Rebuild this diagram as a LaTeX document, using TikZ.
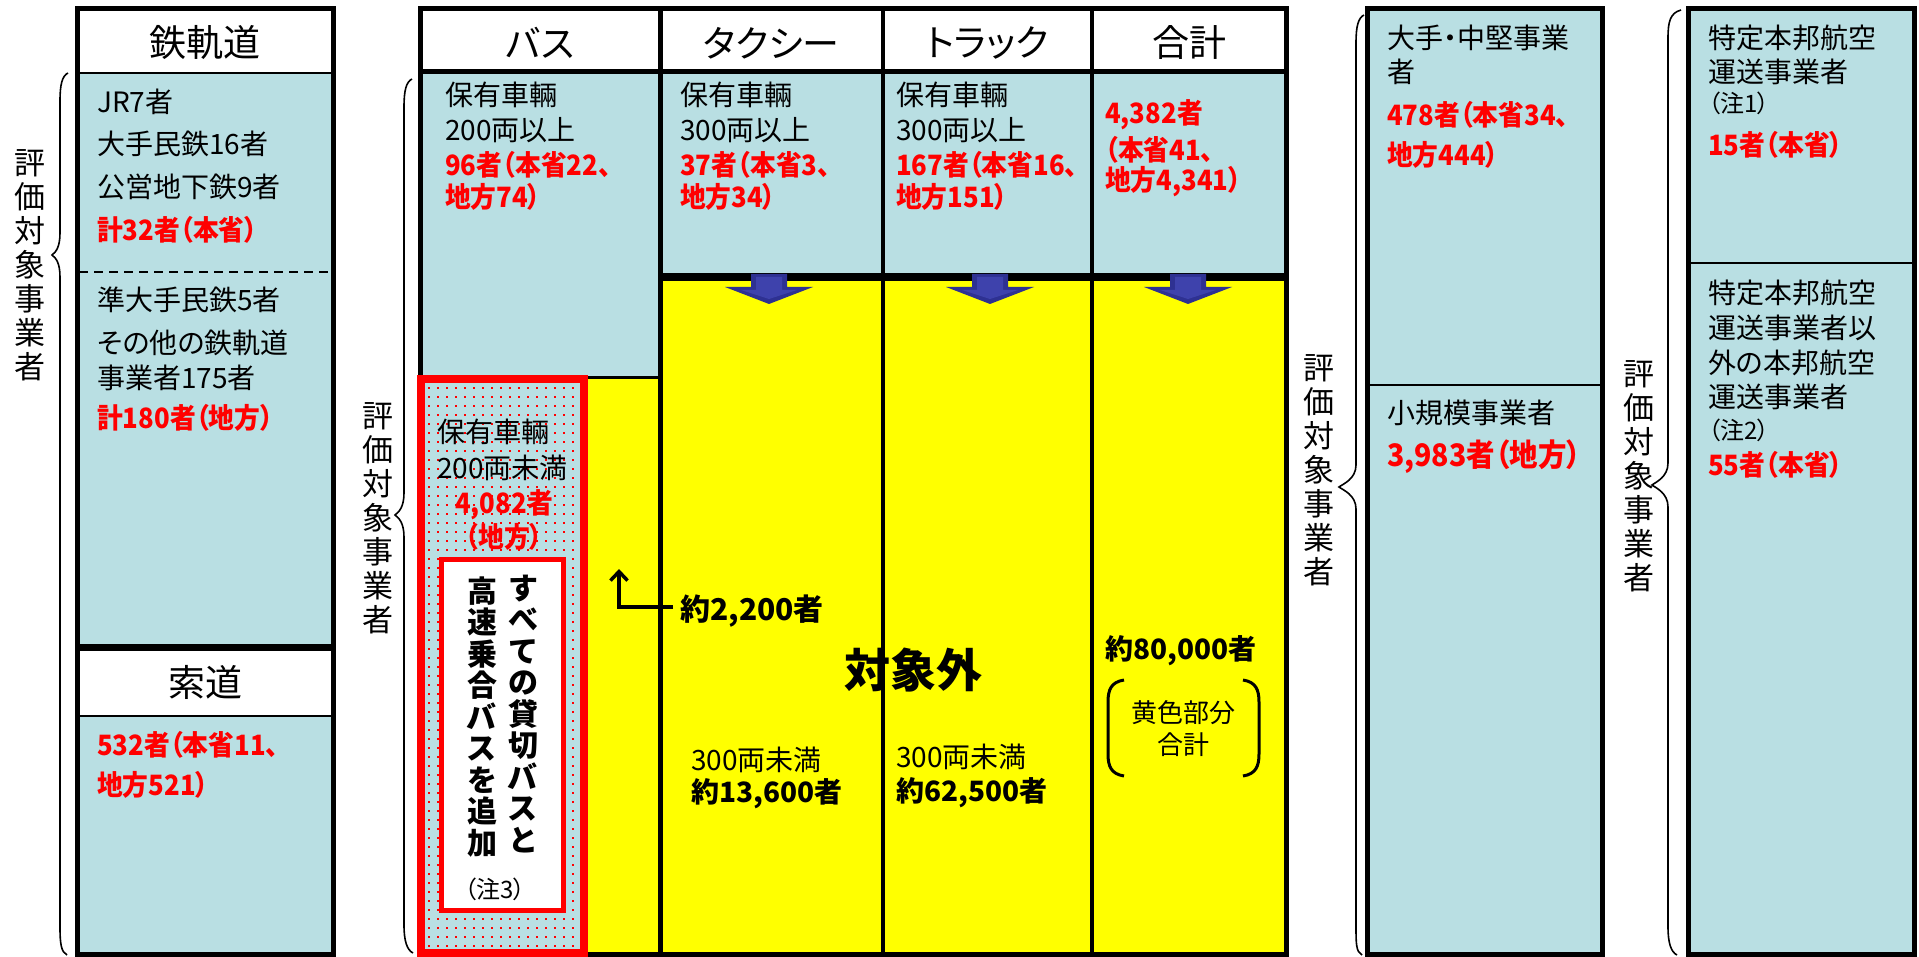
\documentclass[tikz,border=0pt]{standalone}
\usepackage{fontspec}
\setmainfont{Noto Sans CJK JP}[RawFeature=+palt]
\newfontfamily\rbf{Noto Sans CJK JP}[RawFeature=+palt,FakeStretch=0.92]
\usetikzlibrary{arrows.meta}
\definecolor{lblue}{RGB}{185,223,227}
\definecolor{ylw}{RGB}{255,255,0}
\definecolor{navy}{RGB}{46,49,146}
\definecolor{navyl}{RGB}{62,66,172}
\definecolor{rd}{RGB}{255,0,0}
\tikzset{
  tx/.style={anchor=west,inner sep=0pt,font=\fontsize{28}{30}\selectfont},
  rtx/.style={anchor=west,inner sep=0pt,text=rd,font=\fontsize{28}{30}\selectfont\rbf\bfseries},
  btx/.style={anchor=west,inner sep=0pt,font=\fontsize{28}{30}\selectfont\bfseries},
  ntx/.style={anchor=west,inner sep=0pt,font=\fontsize{24}{26}\selectfont},
  hd/.style={inner sep=0pt,font=\fontsize{37}{40}\selectfont},
  vlab/.style={inner sep=0pt,align=center,font=\fontsize{31}{34}\selectfont},
  vbold/.style={inner sep=0pt,align=center,font=\fontsize{30}{31.5}\selectfont\bfseries},
  frame/.style={line width=5pt},
  thinline/.style={line width=2.5pt},
  brc/.style={line width=1.6pt},
}
\newcommand{\mybrace}[7]{\draw[brc] (#2,#3) .. controls (#1+2,#3+3) and (#1,#3+12) .. (#1,#3+28) -- (#1,#5-22) .. controls (#1,#5-8) and (#4+4,#5-3) .. (#4,#5) .. controls (#4+4,#5+3) and (#1,#5+8) .. (#1,#5+22) -- (#1,#7-28) .. controls (#1,#7-12) and (#6-6,#7-3) .. (#6,#7);}
\newcommand{\blkarrow}[1]{\fill[navy] (#1-18,274) -- (#1+18,274) -- (#1+18,287) -- (#1+44,287) -- (#1,304) -- (#1-44,287) -- (#1-18,287) -- cycle;
\fill[navyl] (#1-13,277) -- (#1+13,277) -- (#1+13,290) -- (#1+28,290) -- (#1,299) -- (#1-28,290) -- (#1-13,290) -- cycle;}
\begin{document}
\begin{tikzpicture}[x=1pt,y=-1pt]
\useasboundingbox (0,0) rectangle (1919,957);
\fill[white] (0,0) rectangle (1919,957);
% ---------- fills ----------
\fill[white] (77,9) rectangle (333,73);
\fill[lblue] (77,73) rectangle (333,647);
\fill[white] (77,647) rectangle (333,716);
\fill[lblue] (77,716) rectangle (333,954);
\fill[white] (420,9) rectangle (1286,72);
\fill[lblue] (420,72) rectangle (660,378);
\fill[lblue] (660,72) rectangle (1286,277);
\fill[ylw] (660,277) rectangle (1286,954);
\fill[ylw] (584,378) rectangle (660,954);
\fill[lblue] (421,379) rectangle (584,953);
\foreach \i in {0,...,16}{\foreach \j in {0,...,62}{\fill[rd] (428+9*\i,387+9*\j) rectangle ++(2,2);}}
\fill[lblue] (1367,9) rectangle (1602,954);
\fill[lblue] (1688,9) rectangle (1914,954);
% ---------- lines ----------
\draw[frame] (77,9) rectangle (333,954);
\draw[thinline] (77,73) -- (333,73);
\draw[line width=1.5pt,dash pattern=on 9pt off 6pt] (79,272) -- (331,272);
\draw[line width=7pt] (77,647) -- (333,647);
\draw[thinline] (77,716) -- (333,716);
\draw[frame] (420,9) rectangle (1286,954);
\draw[frame] (420,72) -- (1286,72);
\draw[frame] (660,9) -- (660,954);
\draw[line width=4.5pt] (883,9) -- (883,954);
\draw[line width=4.5pt] (1092,9) -- (1092,954);
\draw[line width=8pt] (660,277) -- (1286,277);
\draw[line width=3pt] (420,378) -- (660,378);
\draw[rd,line width=8pt] (421,379) rectangle (584,953);
\filldraw[fill=white,draw=rd,line width=5pt] (441,559) rectangle (563,910);
\draw[frame] (1367,9) rectangle (1602,954);
\draw[thinline] (1367,385) -- (1602,385);
\draw[frame] (1688,9) rectangle (1914,954);
\draw[thinline] (1688,263) -- (1914,263);
\blkarrow{769}
\blkarrow{990}
\blkarrow{1188}
% ---------- braces and side labels ----------
\mybrace{60}{68}{73}{52}{255}{67}{955}
\mybrace{404}{412}{79}{395}{515}{413}{953}
\mybrace{1356}{1364}{15}{1339}{487}{1362}{955}
\mybrace{1668}{1681}{10}{1652}{485}{1677}{955}
\node[vlab] (lab1) at (30,265) {評\\価\\対\\象\\事\\業\\者};
\node[vlab] (lab2) at (378,518) {評\\価\\対\\象\\事\\業\\者};
\node[vlab] (lab3) at (1319,470) {評\\価\\対\\象\\事\\業\\者};
\node[vlab] (lab4) at (1639,476) {評\\価\\対\\象\\事\\業\\者};
% ---------- column 1 ----------
\node[hd] (h1) at (205,43) {鉄軌道};
\node[tx] (c1a) at (97,102) {JR7者};
\node[tx] (c1b) at (97,144) {大手民鉄16者};
\node[tx] (c1c) at (97,187) {公営地下鉄9者};
\node[rtx] (c1d) at (97,230) {計32者（本省）};
\node[tx] (c1e) at (97,300) {準大手民鉄5者};
\node[tx] (c1f) at (97,343) {その他の鉄軌道};
\node[tx] (c1g) at (97,378) {事業者175者};
\node[rtx] (c1h) at (97,418) {計180者（地方）};
\node[hd] (h2) at (205,682) {索道};
\node[rtx] (c1i) at (97,745) {532者（本省11、};
\node[rtx] (c1j) at (97,785) {地方521）};
% ---------- bus table ----------
\node[hd] (hb) at (540,43) {バス};
\node[hd] (ht) at (771,43) {タクシー};
\node[hd] (hk) at (987,43) {トラック};
\node[hd] (hs) at (1189,43) {合計};
\node[tx] (b1) at (445,95) {保有車輛};
\node[tx] (b2) at (445,130) {200両以上};
\node[rtx] (b3) at (445,165) {96者（本省22、};
\node[rtx] (b4) at (445,197) {地方74）};
\node[tx] (t1) at (680,95) {保有車輛};
\node[tx] (t2) at (680,130) {300両以上};
\node[rtx] (t3) at (680,165) {37者（本省3、};
\node[rtx] (t4) at (680,197) {地方34）};
\node[tx] (k1) at (896,95) {保有車輛};
\node[tx] (k2) at (896,130) {300両以上};
\node[rtx] (k3) at (896,165) {167者（本省16、};
\node[rtx] (k4) at (896,197) {地方151）};
\node[rtx] (s1) at (1105,115) {4,382者};
\node[rtx] (s2) at (1105,150) {（本省41、};
\node[rtx] (s3) at (1105,182) {地方4,341）};
% red box
\node[tx] (r1) at (437,432) {保有車輛};
\node[tx] (r2) at (437,468) {200両未満};
\node[rtx,anchor=center] (r3) at (504,505) {4,082者};
\node[rtx,anchor=center] (r4) at (504,537) {（地方）};
\node[vbold] (v1) at (523,714) {す\\べ\\て\\の\\貸\\切\\バ\\ス\\と};
\node[vbold] (v2) at (482,717) {高\\速\\乗\\合\\バ\\ス\\を\\追\\加};
\node[ntx,anchor=center] (n3) at (495,889) {（注3）};
% yellow area
\node[btx,font=\fontsize{30}{32}\selectfont\bfseries] (n2200) at (680,611) {約2,200者};
\coordinate (tip2200) at (619,569);
\draw[line width=3.5pt,-{Straight Barb[length=9pt,width=17pt]}] ([xshift=-7pt,yshift=4pt]n2200.west) -| (tip2200);
\node[inner sep=0pt,font=\fontsize{46}{50}\selectfont\bfseries] (out) at (913,670) {対象外};
\node[tx] (y1) at (691,760) {300両未満};
\node[btx] (y2) at (691,794) {約13,600者};
\node[tx] (y3) at (896,757) {300両未満};
\node[btx] (y4) at (896,793) {約62,500者};
\node[btx,anchor=center] (y5) at (1181,651) {約80,000者};
\draw[line width=3pt] (1124,680) .. controls (1111,682) and (1108,690) .. (1108,702) -- (1108,754) .. controls (1108,766) and (1111,774) .. (1124,776);
\draw[line width=3pt] (1243,680) .. controls (1256,682) and (1259,690) .. (1259,702) -- (1259,754) .. controls (1259,766) and (1256,774) .. (1243,776);
\node[inner sep=0pt,font=\fontsize{26}{28}\selectfont] (y6) at (1183,713) {黄色部分};
\node[inner sep=0pt,font=\fontsize{26}{28}\selectfont] (y7) at (1183,745) {合計};
% ---------- column 3 ----------
\node[tx] (m1) at (1387,38) {大手・中堅事業};
\node[tx] (m2) at (1387,72) {者};
\node[rtx] (m3) at (1387,115) {478者（本省34、};
\node[rtx] (m4) at (1387,155) {地方444）};
\node[tx] (m5) at (1387,413) {小規模事業者};
\node[rtx,font=\fontsize{31}{33}\selectfont\rbf\bfseries] (m6) at (1387,457) {3,983者（地方）};
% ---------- column 4 ----------
\node[tx] (a1) at (1708,38) {特定本邦航空};
\node[tx] (a2) at (1708,72) {運送事業者};
\node[ntx] (a3) at (1708,103) {（注1）};
\node[rtx] (a4) at (1708,145) {15者（本省）};
\node[tx] (a5) at (1708,293) {特定本邦航空};
\node[tx] (a6) at (1708,328) {運送事業者以};
\node[tx] (a7) at (1708,363) {外の本邦航空};
\node[tx] (a8) at (1708,397) {運送事業者};
\node[ntx] (a9) at (1708,430) {（注2）};
\node[rtx] (a10) at (1708,465) {55者（本省）};
\end{tikzpicture}
\end{document}
